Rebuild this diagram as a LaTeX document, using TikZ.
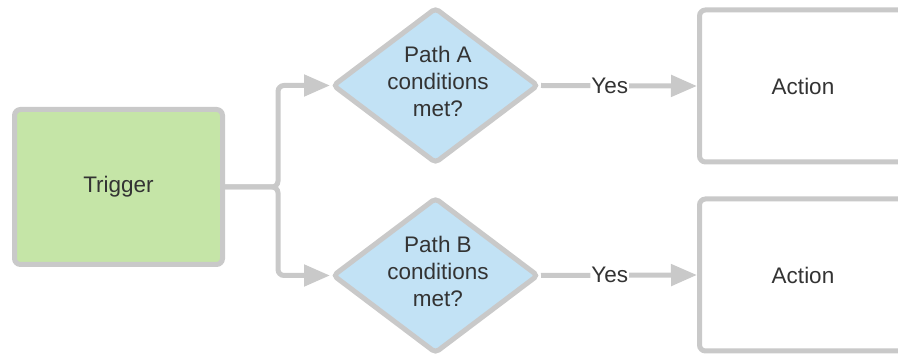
\documentclass[tikz,border=0pt]{standalone}
\usepackage{fontspec}
\setmainfont{Liberation Sans}
\usetikzlibrary{shapes.geometric,arrows.meta,calc}
\definecolor{edgegray}{HTML}{C9C9C9}
\definecolor{trigfill}{HTML}{C5E5A7}
\definecolor{decfill}{HTML}{C2E2F5}
\definecolor{txtcol}{HTML}{333333}
\tikzset{
  box/.style={draw=edgegray, line width=5pt, rounded corners=6pt, inner sep=0pt,
    font=\fontsize{22.5}{27}\selectfont, text=txtcol},
  trigbox/.style={box, fill=trigfill, minimum width=208pt, minimum height=155pt},
  actbox/.style={box, fill=white, minimum width=207pt, minimum height=152pt},
  diam/.style={diamond, draw=edgegray, fill=decfill, line width=5pt, rounded corners=4pt,
    minimum width=206pt, minimum height=156pt, inner sep=0pt},
  dtxt/.style={align=center, font=\fontsize{22.5}{27}\selectfont, text=txtcol, inner sep=0pt},
  conn/.style={draw=edgegray, line width=5pt, rounded corners=6pt,
    -{Triangle[length=26pt,width=21pt]}},
  lbl/.style={fill=white, font=\fontsize{22.5}{27}\selectfont, text=txtcol, inner sep=1pt}
}
\begin{document}
\begin{tikzpicture}[x=1pt,y=-1pt]
\useasboundingbox (0,0) rectangle (898,355);
\node[trigbox] (trig) at (118.5,187) {Trigger};
\node[diam] (da) at (435.5,85.5) {};
\node[dtxt] (dat) at (438,81) {Path A\\conditions\\met?};
\node[diam] (db) at (435.5,275.5) {};
\node[dtxt] (dbt) at (438,271) {Path B\\conditions\\met?};
\node[actbox] (aa) at (803,86) {Action};
\node[actbox] (ab) at (803,275) {Action};
\coordinate (split) at ($(trig.east)+(53,0)$);
\draw[conn] (trig.east) -- (split) |- (da.west);
\draw[conn] (trig.east) -- (split) |- (db.west);
\draw[conn] (da.east) -- node[lbl, pos=0.44] {Yes} (aa.west);
\draw[conn] (db.east) -- node[lbl, pos=0.44] {Yes} (ab.west);
\end{tikzpicture}
\end{document}
